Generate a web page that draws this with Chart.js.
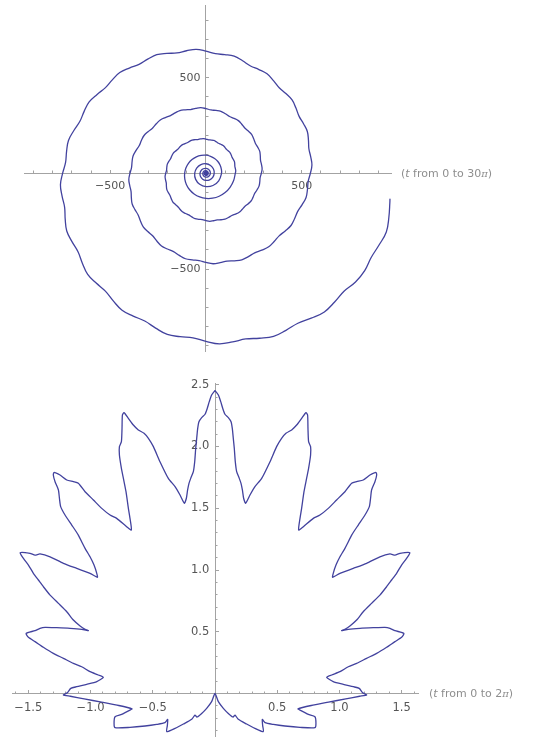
<!DOCTYPE html>
<html>
<head>
<meta charset="utf-8">
<script src="https://cdn.jsdelivr.net/npm/chart.js@4/dist/chart.umd.min.js"></script>
<style>
html,body{margin:0;padding:0;background:#fff;}
#wrap{position:relative;width:542px;height:737px;overflow:hidden;background:#fff;}
#c1{position:absolute;left:0;top:0;}
#c2{position:absolute;left:0;top:360px;}
.lbl{position:absolute;font-family:'DejaVu Sans',sans-serif;font-size:11px;line-height:13px;color:#8e8e8e;white-space:nowrap;}
.lbl i{font-style:italic;}
.lbl .pi{font-family:'DejaVu Serif',serif;font-style:italic;font-size:10px;}
</style>
</head>
<body>
<div id="wrap">
<canvas id="c1" width="542" height="360"></canvas>
<canvas id="c2" width="542" height="377"></canvas>
<div class="lbl" style="left:401px;top:167px">(<i>t</i> from 0 to 30<span class="pi">π</span>)</div>
<div class="lbl" style="left:429px;top:687px">(<i>t</i> from 0 to 2<span class="pi">π</span>)</div>
</div>
<script>
// ---------- Top plot: spiral, read as angle (degrees, counter-clockwise) and radius ----------
const spiralAngleDeg = [
-3240,-3180,-3120,-3060,-3000,-2940,-2880,-2820,-2760,-2700,-2640,-2580,-2520,-2460,-2400,-2340,-2280,-2220,
-2160,-2130,-2100,-2070,-2040,-2010,-1980,-1950,-1920,-1890,-1860,-1830,-1800,-1770,-1740,-1710,-1680,-1650,
-1620,-1590,-1560,-1530,-1500,-1470,-1440,-1410,-1380,-1350,-1320,-1290,-1260,-1230,-1200,-1170,-1140,-1110,
-1080,-1065,-1050,-1035,-1020,-1005,-990,-975,-960,-945,-930,-915,-900,-885,-870,-855,-840,-825,
-810,-795,-780,-765,-750,-735,
-720,-715.5,-711,-706.5,-702,-697.5,-693,-688.5,-684,-679.5,-675,-670.5,-666,-661.5,-657,-652.5,-648,-643.5,-639,-634.5,
-630,-625.5,-621,-616.5,-612,-607.5,-603,-598.5,-594,-589.5,-585,-580.5,-576,-571.5,-567,-562.5,-558,-553.5,-549,-544.5,
-540,-535.5,-531,-526.5,-522,-517.5,-513,-508.5,-504,-499.5,-495,-490.5,-486,-481.5,-477,-472.5,-468,-463.5,-459,-454.5,
-450,-445.5,-441,-436.5,-432,-427.5,-423,-418.5,-414,-409.5,-405,-400.5,-396,-391.5,-387,-382.5,-378,-373.5,-369,-364.5,
-360,-355.5,-351,-346.5,-342,-337.5,-333,-328.5,-324,-319.5,-315,-310.5,-306,-301.5,-297,-292.5,-288,-283.5,-279,-274.5,
-270,-265.5,-261,-256.5,-252,-247.5,-243,-238.5,-234,-229.5,-225,-220.5,-216,-211.5,-207,-202.5,-198,-193.5,-189,-184.5,
-180,-175.5,-171,-166.5,-162,-157.5,-153,-148.5,-144,-139.5,-135,-130.5,-126,-121.5,-117,-112.5,-108,-103.5,-99,-94.5,
-90,-85.5,-81,-76.5,-72,-67.5,-63,-58.5,-54,-49.5,-45,-40.5,-36,-31.5,-27,-22.5,-18,-13.5,-9,-4.5,
0,4.5,9,13.5,18,22.5,27,31.5,36,40.5,45,49.5,54,58.5,63,67.5,72,76.5,81,85.5,
90,94.5,99,103.5,108,112.5,117,121.5,126,130.5,135,139.5,144,148.5,153,157.5,162,166.5,171,175.5,
180,184.5,189,193.5,198,202.5,207,211.5,216,220.5,225,229.5,234,238.5,243,247.5,252,256.5,261,265.5,
270,274.5,279,283.5,288,292.5,297,301.5,306,310.5,315,319.5,324,328.5,333,337.5,342,346.5,351,352
];
const spiralRadius = [
1.8,2.0,2.2,2.5,2.7,3.1,3.4,3.8,4.2,4.7,5.2,5.8,6.4,7.1,7.9,8.8,9.8,10.9,
12.1,12.7,13.4,14.1,14.9,15.7,16.6,17.5,18.4,19.4,20.5,21.6,22.8,24.0,25.3,26.7,28.1,29.7,
31.3,33.0,34.8,36.7,38.7,40.8,43.0,45.3,47.8,50.4,53.1,56.0,59.0,62.2,65.6,69.2,73.0,76.9,
81.1,83.3,85.5,87.8,90.2,92.6,95.1,97.6,100.3,102.9,105.7,108.5,111.4,114.4,117.5,120.7,123.9,127.2,
130.6,134.1,137.7,141.4,145.2,149.1,
153.1,155.9,155.6,155.2,158.0,160.9,160.6,160.2,163.1,166.1,165.7,165.4,168.4,171.4,171.1,170.7,173.8,177.0,176.6,176.2,
179.4,182.6,182.3,181.9,185.2,188.5,188.2,187.8,191.2,194.6,194.2,193.8,197.3,200.9,200.5,200.1,203.7,207.4,207.0,206.5,
210.3,214.1,213.7,213.2,217.1,221.0,220.6,220.1,224.1,228.2,227.7,227.1,231.3,235.5,235.0,234.5,238.8,243.1,242.6,242.1,
246.5,251.0,250.4,250.0,254.5,259.0,258.5,258.0,262.7,267.4,266.9,266.3,271.1,276.0,275.5,274.9,279.9,284.9,284.4,283.7,
288.9,294.1,293.5,292.9,298.2,303.6,303.0,302.3,307.8,313.3,312.8,312.1,317.8,323.5,322.9,322.1,328.0,333.9,333.3,332.6,
338.6,344.7,344.0,343.3,349.5,355.8,355.1,354.4,360.8,367.3,366.6,365.8,372.4,379.1,378.4,377.6,384.5,391.4,390.6,389.8,
396.8,404.0,403.1,402.3,409.6,417.0,416.2,415.3,422.8,430.5,429.6,428.7,436.5,444.3,443.4,442.5,450.5,458.6,457.7,456.8,
465.0,473.4,472.4,471.5,480.0,488.7,487.7,486.7,495.5,504.4,503.4,502.3,511.5,520.7,519.7,518.5,528.0,537.5,536.4,535.3,
545.0,554.9,553.7,552.6,562.6,572.8,571.6,570.4,580.7,591.2,590.0,588.8,599.5,610.3,609.1,607.8,618.8,630.0,628.7,627.4,
638.7,650.2,648.9,647.6,659.3,671.2,669.9,668.5,680.6,692.9,691.5,690.0,702.5,715.2,713.8,712.3,725.2,738.2,736.8,735.2,
748.6,762.1,760.6,758.9,772.7,786.7,785.1,783.5,797.7,812.1,810.4,808.8,823.4,838.2,836.6,834.8,850.0,865.3,863.6,861.8,
877.3,893.2,891.3,889.5,905.6,921.9,920.1,918.1,934.8,951.7,949.8,947.8,965.0,972.0,968.0,978.0,990.0,982.0,972.0,970.0
];
const topXMajor = [-500, 500];
const topXLabels = ['\u2212500', '500'];
const topYMajor = [-500, 500];
const topYLabels = ['\u2212500\u2002', '500\u2002'];
const topXMinor = [-900,-800,-700,-600,-400,-300,-200,-100,100,200,300,400,600,700,800,900];
const topYMinor = [-900,-800,-700,-600,-400,-300,-200,-100,100,200,300,400,600,700,800];

// ---------- Bottom plot: leaf curve, right half read from top tip to bottom cusp ----------
const leafRightX = [0,0.027,0.046,0.062,0.080,0.107,0.129,0.139,0.147,0.155,
0.163,0.174,0.195,0.209,0.220,0.230,0.246,0.281,0.321,0.375,
0.442,0.495,0.535,0.570,0.616,0.656,0.696,0.731,0.744,0.747,
0.752,0.768,0.768,0.752,0.736,0.715,0.696,0.683,0.672,0.710,
0.790,0.843,0.910,0.977,1.044,1.098,1.138,1.191,1.245,1.293,
1.299,1.285,1.258,1.250,1.240,1.205,1.151,1.098,1.058,1.044,
1.004,0.972,0.950,0.945,1.004,1.111,1.218,1.325,1.406,1.446,
1.486,1.566,1.539,1.499,1.459,1.419,1.379,1.325,1.258,1.191,
1.138,1.084,1.044,1.017,1.071,1.165,1.272,1.365,1.406,1.446,
1.518,1.499,1.446,1.379,1.299,1.218,1.138,1.071,1.004,0.937,
0.897,0.950,1.031,1.111,1.159,1.186,1.218,1.162,1.051,0.912,
0.773,0.667,0.683,0.750,0.803,0.811,0.803,0.683,0.562,0.469,
0.402,0.380,0.383,0.388,0.321,0.254,0.187,0.161,0.145,0.107,
0.067,0.027,0];
const leafRightY = [2.452,2.417,2.363,2.309,2.261,2.234,2.201,2.147,2.066,1.985,
1.877,1.796,1.742,1.702,1.648,1.581,1.540,1.607,1.675,1.742,
1.877,1.999,2.066,2.107,2.134,2.174,2.228,2.274,2.255,2.147,
2.039,1.999,1.931,1.823,1.742,1.634,1.499,1.418,1.324,1.351,
1.418,1.445,1.499,1.567,1.634,1.702,1.715,1.729,1.769,1.791,
1.769,1.715,1.648,1.581,1.513,1.445,1.364,1.283,1.202,1.175,
1.107,1.040,0.973,0.941,0.973,1.013,1.054,1.107,1.130,1.121,
1.135,1.140,1.094,1.040,0.973,0.919,0.865,0.797,0.730,0.662,
0.595,0.547,0.520,0.509,0.520,0.528,0.533,0.536,0.528,0.509,
0.487,0.455,0.420,0.374,0.325,0.285,0.244,0.217,0.177,0.150,
0.131,0.096,0.074,0.055,0.042,0.007,-0.012,-0.022,-0.043,-0.070,
-0.097,-0.124,-0.134,-0.169,-0.188,-0.242,-0.277,-0.274,-0.263,-0.250,
-0.236,-0.209,-0.260,-0.309,-0.282,-0.247,-0.209,-0.175,-0.190,-0.161,
-0.120,-0.066,0];
const botXMajor = [-1.5, -1.0, -0.5, 0.5, 1.0, 1.5];
const botXLabels = ['\u22121.5', '\u22121.0', '\u22120.5', '0.5', '1.0', '1.5'];
const botYMajor = [0.5, 1.0, 1.5, 2.0, 2.5];
const botYLabels = ['0.5\u2002', '1.0\u2002', '1.5\u2002', '2.0\u2002', '2.5\u2002'];
const botXMinor = [-1.6,-1.4,-1.3,-1.2,-1.1,-0.9,-0.8,-0.7,-0.6,-0.4,-0.3,-0.2,-0.1,0.1,0.2,0.3,0.4,0.6,0.7,0.8,0.9,1.1,1.2,1.3,1.4,1.6];
const botYMinor = [-0.3,-0.2,-0.1,0.1,0.2,0.3,0.4,0.6,0.7,0.8,0.9,1.1,1.2,1.3,1.4,1.6,1.7,1.8,1.9,2.1,2.2,2.3,2.4];

// ---------- styles ----------
const LINE = '#42429e';
const AXIS = '#a3a3a3';
const TICKTXT = '#555555';

// ---------- build tables for the library ----------
const spiralPoints = spiralAngleDeg.map((a, i) => ({
  x: spiralRadius[i] * Math.cos(a * Math.PI / 180),
  y: spiralRadius[i] * Math.sin(a * Math.PI / 180)
}));
const leafPoints = leafRightX.map((x, i) => ({ x: x, y: leafRightY[i] }));
for (let i = leafRightX.length - 2; i >= 0; i--) {
  leafPoints.push({ x: -leafRightX[i], y: leafRightY[i] });
}

function zeroPad(s) { s.paddingLeft = 0; s.paddingRight = 0; s.paddingTop = 0; s.paddingBottom = 0; }
function makeScale(axis, min, max, values, labels, tickLen, border, fontSize, pad) {
  return {
    type: 'linear', axis: axis, min: min, max: max,
    position: axis === 'x' ? { y: 0 } : { x: 0 },
    afterBuildTicks: s => { s.ticks = values.map(v => ({ value: v })); },
    afterFit: zeroPad,
    ticks: {
      display: !!labels, autoSkip: false, maxRotation: 0, minRotation: 0, padding: pad,
      color: TICKTXT, font: { family: 'DejaVu Sans', size: fontSize },
      callback: (v, i) => (labels ? labels[i] : '')
    },
    grid: { drawOnChartArea: false, drawTicks: true, tickLength: tickLen, color: AXIS, tickColor: AXIS, lineWidth: 1 },
    border: { display: border, color: AXIS, width: 1 }
  };
}
function lineSet(pts, tension) {
  return {
    data: pts, showLine: true, borderColor: LINE, borderWidth: 1.3, pointRadius: 0, pointHoverRadius: 0,
    tension: tension, fill: false, xAxisID: 'x', yAxisID: 'y', borderJoinStyle: 'round', borderCapStyle: 'round'
  };
}
const common = {
  responsive: false, animation: false, devicePixelRatio: 1, events: [],
  plugins: { legend: { display: false }, tooltip: { enabled: false } }
};

new Chart(document.getElementById('c1'), {
  type: 'scatter',
  data: { datasets: [lineSet(spiralPoints, 0.4)] },
  options: Object.assign({}, common, {
    layout: { padding: { left: 24, right: 151, top: 5, bottom: 8.6 } },
    scales: {
      x: makeScale('x', -950, 966, topXMajor, topXLabels, -4, true, 11, 10),
      y: makeScale('y', -930, 880, topYMajor, topYLabels, -4, true, 11, 0),
      x2: makeScale('x', -950, 966, topXMinor, null, -2.5, false, 11, 0),
      y2: makeScale('y', -930, 880, topYMinor, null, -2.5, false, 11, 0)
    }
  })
});

new Chart(document.getElementById('c2'), {
  type: 'scatter',
  data: { datasets: [lineSet(leafPoints, 0.2)] },
  options: Object.assign({}, common, {
    layout: { padding: { left: 12, right: 124, top: 23, bottom: 0 } },
    scales: {
      x: makeScale('x', -1.631, 1.631, botXMajor, botXLabels, -4, true, 11.5, 11.5),
      y: makeScale('y', -0.352, 2.514, botYMajor, botYLabels, -4, true, 11.5, 0),
      x2: makeScale('x', -1.631, 1.631, botXMinor, null, -2.5, false, 11, 0),
      y2: makeScale('y', -0.352, 2.514, botYMinor, null, -2.5, false, 11, 0)
    }
  })
});
</script>
</body>
</html>
